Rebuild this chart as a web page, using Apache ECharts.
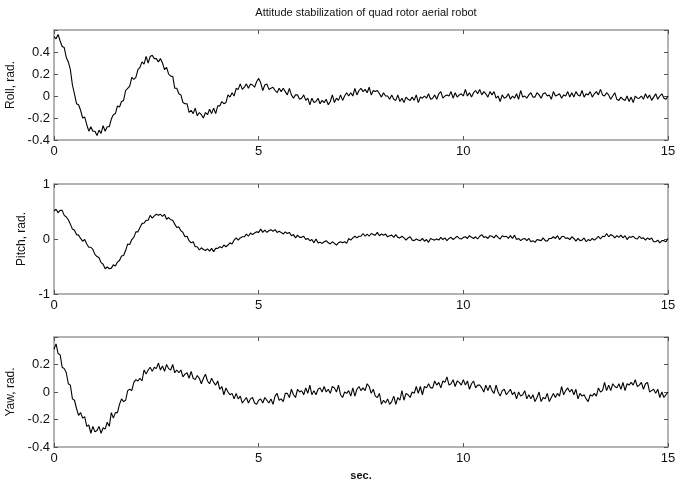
<!DOCTYPE html>
<html>
<head>
<meta charset="utf-8">
<script src="https://cdn.jsdelivr.net/npm/echarts@6/dist/echarts.min.js"></script>
<style>
  html, body { margin: 0; padding: 0; background: #fff; }
  .echarts { width: 675px; height: 483px; }
</style>
</head>
<body>
<div class="echarts"></div>
<script>
const sampleStep = 0.05;
const roll = [
  0.54, 0.52, 0.56, 0.50, 0.45, 0.44, 0.35, 0.31, 0.24, 0.10,
  0.02, -0.07, -0.08, -0.13, -0.20, -0.19, -0.26, -0.32, -0.28, -0.32,
  -0.32, -0.36, -0.31, -0.34, -0.27, -0.32, -0.28, -0.28, -0.21, -0.17,
  -0.16, -0.09, -0.10, -0.05, -0.04, 0.05, 0.07, 0.09, 0.17, 0.15,
  0.17, 0.24, 0.26, 0.31, 0.29, 0.36, 0.30, 0.36, 0.37, 0.34,
  0.34, 0.31, 0.34, 0.30, 0.24, 0.26, 0.20, 0.18, 0.18, 0.07,
  0.07, 0.02, 0.01, -0.06, -0.07, -0.07, -0.15, -0.13, -0.16, -0.11,
  -0.18, -0.15, -0.17, -0.20, -0.15, -0.17, -0.12, -0.16, -0.11, -0.16,
  -0.09, -0.09, -0.05, -0.07, -0.06, 0.01, -0.01, 0.03, 0.00, 0.07,
  0.06, 0.11, 0.06, 0.08, 0.11, 0.07, 0.11, 0.10, 0.08, 0.13,
  0.16, 0.12, 0.05, 0.10, 0.11, 0.06, 0.07, 0.08, 0.05, 0.03,
  0.07, 0.04, 0.07, 0.04, 0.01, 0.07, 0.01, -0.02, 0.01, 0.01,
  -0.03, -0.02, 0.01, -0.04, -0.02, -0.08, -0.02, -0.06, -0.05, -0.02,
  -0.07, -0.04, -0.06, -0.03, -0.08, -0.05, 0.01, -0.06, -0.02, -0.04,
  0.01, -0.04, 0.00, 0.03, 0.00, 0.03, 0.00, 0.07, 0.01, 0.05,
  0.07, 0.04, 0.06, 0.03, 0.08, 0.01, 0.05, 0.04, 0.05, 0.02,
  -0.01, 0.03, 0.00, 0.00, -0.03, 0.01, -0.03, -0.04, 0.01, -0.05,
  -0.02, -0.06, -0.01, -0.03, -0.04, -0.01, -0.04, 0.01, -0.06, -0.01,
  -0.02, 0.00, -0.02, 0.02, -0.03, -0.02, 0.01, -0.03, 0.02, 0.04,
  -0.02, 0.00, 0.01, 0.00, 0.04, -0.02, 0.03, -0.01, 0.01, 0.02,
  0.00, 0.06, 0.00, 0.03, -0.01, 0.03, 0.05, 0.02, 0.06, 0.01,
  0.04, 0.02, -0.01, 0.04, 0.01, 0.04, -0.02, 0.00, -0.05, 0.01,
  -0.02, -0.01, 0.02, -0.03, 0.00, -0.02, 0.02, -0.03, 0.05, -0.01,
  0.00, -0.02, 0.01, 0.03, -0.01, -0.01, 0.03, 0.01, -0.02, 0.02,
  0.03, 0.00, 0.01, -0.03, 0.04, 0.00, 0.01, 0.02, -0.02, 0.01,
  0.00, 0.04, -0.01, 0.03, -0.01, 0.04, 0.01, 0.00, 0.05, -0.01,
  0.02, 0.01, 0.04, -0.01, 0.02, 0.04, 0.01, 0.06, 0.01, 0.00,
  0.03, 0.01, -0.03, 0.00, 0.03, -0.03, -0.04, -0.01, -0.03, -0.04,
  0.00, -0.05, -0.01, -0.06, 0.00, -0.02, -0.02, 0.00, -0.03, 0.02,
  -0.02, 0.01, -0.04, -0.01, 0.02, -0.03, 0.00, 0.02, -0.02, -0.03,
  0.00
];
const pitch = [
  0.51, 0.54, 0.48, 0.52, 0.52, 0.43, 0.40, 0.35, 0.27, 0.18,
  0.16, 0.08, 0.07, 0.01, -0.04, -0.01, -0.09, -0.15, -0.15, -0.19,
  -0.28, -0.32, -0.34, -0.43, -0.46, -0.54, -0.51, -0.54, -0.53, -0.47,
  -0.49, -0.42, -0.39, -0.31, -0.30, -0.21, -0.09, -0.10, -0.01, 0.03,
  0.13, 0.13, 0.21, 0.28, 0.29, 0.34, 0.34, 0.43, 0.38, 0.42,
  0.45, 0.43, 0.45, 0.41, 0.45, 0.36, 0.39, 0.35, 0.34, 0.27,
  0.21, 0.22, 0.15, 0.12, 0.04, 0.05, -0.03, -0.07, -0.05, -0.14,
  -0.14, -0.20, -0.16, -0.19, -0.21, -0.18, -0.22, -0.17, -0.23, -0.17,
  -0.17, -0.14, -0.16, -0.11, -0.14, -0.11, -0.07, -0.09, -0.02, 0.02,
  -0.02, 0.02, 0.04, 0.04, 0.09, 0.05, 0.11, 0.08, 0.11, 0.13,
  0.12, 0.18, 0.12, 0.16, 0.12, 0.15, 0.17, 0.14, 0.17, 0.12,
  0.14, 0.12, 0.09, 0.13, 0.10, 0.12, 0.06, 0.08, 0.02, 0.07,
  0.03, 0.03, 0.05, -0.01, 0.01, -0.03, -0.01, -0.07, 0.00, -0.07,
  -0.06, -0.08, -0.05, -0.03, -0.07, -0.09, -0.05, -0.08, -0.11, -0.07,
  -0.05, -0.07, -0.05, -0.08, 0.01, -0.02, 0.02, 0.05, 0.02, 0.05,
  0.05, 0.10, 0.05, 0.09, 0.05, 0.10, 0.08, 0.07, 0.12, 0.06,
  0.09, 0.07, 0.09, 0.04, 0.06, 0.07, 0.03, 0.08, 0.03, 0.02,
  0.05, 0.02, -0.02, 0.02, 0.04, -0.02, -0.03, 0.00, -0.02, -0.03,
  0.01, -0.04, -0.01, -0.06, 0.01, -0.01, -0.02, 0.00, -0.02, 0.03,
  -0.01, 0.02, -0.03, 0.01, 0.03, -0.01, 0.02, 0.05, 0.01, 0.00,
  0.03, 0.04, 0.01, 0.06, 0.03, 0.01, 0.04, 0.00, 0.05, 0.08,
  0.03, 0.04, 0.01, 0.06, 0.05, 0.02, 0.07, 0.03, 0.00, 0.06,
  0.04, 0.05, 0.01, 0.06, 0.01, 0.07, -0.01, 0.01, -0.03, 0.00,
  0.01, -0.03, 0.01, -0.05, -0.03, -0.06, -0.01, -0.02, -0.03, 0.02,
  -0.03, -0.04, 0.01, 0.01, 0.04, 0.01, 0.06, -0.01, 0.04, 0.05,
  0.01, 0.02, -0.01, 0.04, 0.01, -0.04, 0.01, -0.03, -0.02, 0.02,
  -0.05, -0.01, -0.03, 0.01, -0.02, 0.01, 0.05, 0.00, 0.05, 0.04,
  0.10, 0.04, 0.08, 0.06, 0.02, 0.06, 0.03, 0.07, 0.02, 0.06,
  -0.01, 0.04, 0.03, 0.05, 0.01, 0.00, 0.05, 0.01, 0.02, -0.02,
  0.02, -0.01, 0.02, -0.05, -0.05, -0.02, -0.07, -0.03, -0.03, -0.05,
  0.01
];
const yaw = [
  0.31, 0.35, 0.28, 0.27, 0.18, 0.17, 0.14, 0.06, 0.05, -0.05,
  -0.06, -0.12, -0.17, -0.15, -0.19, -0.18, -0.25, -0.24, -0.30, -0.25,
  -0.29, -0.28, -0.25, -0.30, -0.26, -0.27, -0.22, -0.25, -0.15, -0.19,
  -0.15, -0.15, -0.09, -0.05, -0.07, -0.06, 0.01, 0.02, 0.01, 0.07,
  0.09, 0.08, 0.10, 0.08, 0.16, 0.13, 0.16, 0.18, 0.15, 0.18,
  0.17, 0.21, 0.16, 0.19, 0.15, 0.20, 0.17, 0.16, 0.20, 0.14,
  0.16, 0.14, 0.16, 0.11, 0.13, 0.14, 0.10, 0.15, 0.10, 0.09,
  0.12, 0.10, 0.06, 0.10, 0.13, 0.08, 0.06, 0.10, 0.07, 0.05,
  0.08, 0.02, 0.04, -0.02, 0.03, 0.00, -0.02, -0.01, -0.05, -0.01,
  -0.05, -0.03, -0.08, -0.06, -0.04, -0.08, -0.05, -0.04, -0.08, -0.09,
  -0.06, -0.05, -0.08, -0.04, -0.06, -0.08, -0.05, -0.09, -0.03, -0.01,
  -0.06, -0.05, -0.07, -0.01, -0.01, -0.04, 0.02, -0.02, -0.04, 0.02,
  0.00, 0.01, -0.02, 0.03, -0.01, 0.05, -0.02, 0.01, -0.02, 0.02,
  0.03, 0.00, 0.04, 0.00, 0.02, -0.01, 0.04, 0.03, 0.00, 0.05,
  -0.02, -0.04, 0.00, -0.01, 0.01, -0.03, 0.03, -0.03, 0.02, 0.04,
  0.01, 0.03, 0.01, 0.06, 0.04, -0.01, 0.02, -0.03, -0.04, -0.01,
  -0.09, -0.06, -0.08, -0.05, -0.09, -0.07, -0.03, -0.09, -0.04, -0.06,
  0.01, -0.06, -0.01, -0.02, -0.04, 0.00, -0.01, 0.04, -0.01, 0.04,
  -0.02, 0.04, 0.03, 0.06, 0.03, 0.03, 0.08, 0.05, 0.07, 0.03,
  0.08, 0.07, 0.11, 0.05, 0.06, 0.09, 0.04, 0.08, 0.07, 0.05,
  0.09, 0.05, 0.08, 0.02, 0.06, 0.08, 0.03, 0.05, 0.05, 0.03,
  0.00, 0.05, 0.01, 0.05, 0.01, -0.01, 0.05, 0.00, -0.03, 0.01,
  0.02, -0.02, 0.00, 0.02, -0.02, 0.00, -0.05, 0.00, -0.03, -0.02,
  0.01, -0.05, -0.02, -0.05, -0.02, -0.07, -0.04, 0.00, -0.07, -0.04,
  -0.05, -0.01, -0.07, -0.04, -0.01, -0.04, -0.01, -0.03, 0.04, -0.02,
  0.01, 0.03, 0.00, 0.02, -0.02, 0.02, -0.05, -0.01, -0.03, -0.02,
  -0.05, -0.07, -0.02, -0.03, -0.01, -0.03, 0.03, 0.00, 0.01, 0.07,
  0.01, 0.05, 0.01, 0.06, 0.04, 0.03, 0.06, 0.02, 0.07, 0.01,
  0.06, 0.05, 0.07, 0.05, 0.09, 0.04, 0.05, 0.07, 0.02, 0.06,
  0.07, 0.00, 0.01, 0.02, -0.01, 0.02, -0.04, 0.00, -0.04, -0.02,
  0.00
];
const xTicks = [0, 5, 10, 15];
const rollTicks = [-0.4, -0.2, 0, 0.2, 0.4];
const pitchTicks = [-1, 0, 1];
const yawTicks = [-0.4, -0.2, 0, 0.2];

window.addEventListener('load', function () {
    let myChart = echarts.init(document.querySelector('.echarts'));

    const font = 'Liberation Sans, Arial, sans-serif';
    const boxColor = '#9a9a9a';

    function pairs(arr) {
        return arr.map(function (v, i) { return [+(i * sampleStep).toFixed(2), v]; });
    }

    const grids = [
        { left: 54, right: 7, top: 30, height: 110, outerBoundsMode: 'none' },
        { left: 54, right: 7, top: 184, height: 110, outerBoundsMode: 'none' },
        { left: 54, right: 7, top: 337, height: 110, outerBoundsMode: 'none' }
    ];

    function xAxisFor(idx, top) {
        return {
            type: 'value',
            gridIndex: idx,
            position: top ? 'top' : 'bottom',
            min: xTicks[0],
            max: xTicks[xTicks.length - 1],
            interval: 5,
            axisLine: { show: true, onZero: false, lineStyle: { color: boxColor, width: 1.5 } },
            axisTick: { show: true, inside: true, length: 4, lineStyle: { color: '#555' } },
            axisLabel: { show: !top, color: '#111', fontSize: 13, fontFamily: font, margin: 5 },
            splitLine: { show: false },
            name: (idx === 2 && !top) ? 'sec.' : '',
            nameLocation: 'middle',
            nameGap: 23,
            nameTextStyle: { color: '#111', fontSize: 11, fontFamily: font, fontWeight: 'bold' }
        };
    }

    function yAxisFor(idx, right, ticks, lo, hi, step, name, gap) {
        return {
            type: 'value',
            gridIndex: idx,
            position: right ? 'right' : 'left',
            min: lo,
            max: hi,
            interval: step,
            axisLine: { show: true, onZero: false, lineStyle: { color: boxColor, width: 1.5 } },
            axisTick: { show: true, inside: true, length: 4, lineStyle: { color: '#555' } },
            axisLabel: {
                show: !right, color: '#111', fontSize: 13, fontFamily: font, margin: 4,
                formatter: function (v) {
                    return ticks.some(function (t) { return Math.abs(t - v) < 1e-9; }) ? String(+v.toFixed(1)) : '';
                }
            },
            splitLine: { show: false },
            name: right ? '' : name,
            nameLocation: 'middle',
            nameGap: gap,
            nameRotate: 90,
            nameTextStyle: { color: '#111', fontSize: 12, fontFamily: font }
        };
    }

    function lineSeries(idx, data) {
        return {
            type: 'line',
            xAxisIndex: idx,
            yAxisIndex: idx,
            data: pairs(data),
            showSymbol: false,
            animation: false,
            lineStyle: { color: '#000', width: 1.1 }
        };
    }

    let myChartOption = {
        animation: false,
        title: {
            text: 'Attitude stabilization of quad rotor aerial robot',
            left: 361,
            textAlign: 'center',
            top: 2,
            textStyle: { color: '#111', fontSize: 11, fontWeight: 'normal', fontFamily: font }
        },
        grid: grids,
        xAxis: [
            xAxisFor(0, false), xAxisFor(1, false), xAxisFor(2, false),
            xAxisFor(0, true), xAxisFor(1, true), xAxisFor(2, true)
        ],
        yAxis: [
            yAxisFor(0, false, rollTicks, -0.4, 0.6, 0.2, 'Roll, rad.', 36),
            yAxisFor(1, false, pitchTicks, -1, 1, 1, 'Pitch, rad.', 26),
            yAxisFor(2, false, yawTicks, -0.4, 0.4, 0.2, 'Yaw, rad.', 36),
            yAxisFor(0, true, rollTicks, -0.4, 0.6, 0.2, '', 0),
            yAxisFor(1, true, pitchTicks, -1, 1, 1, '', 0),
            yAxisFor(2, true, yawTicks, -0.4, 0.4, 0.2, '', 0)
        ],
        series: [
            lineSeries(0, roll),
            lineSeries(1, pitch),
            lineSeries(2, yaw)
        ]
    };
    myChart.setOption(myChartOption);
});
</script>
</body>
</html>
